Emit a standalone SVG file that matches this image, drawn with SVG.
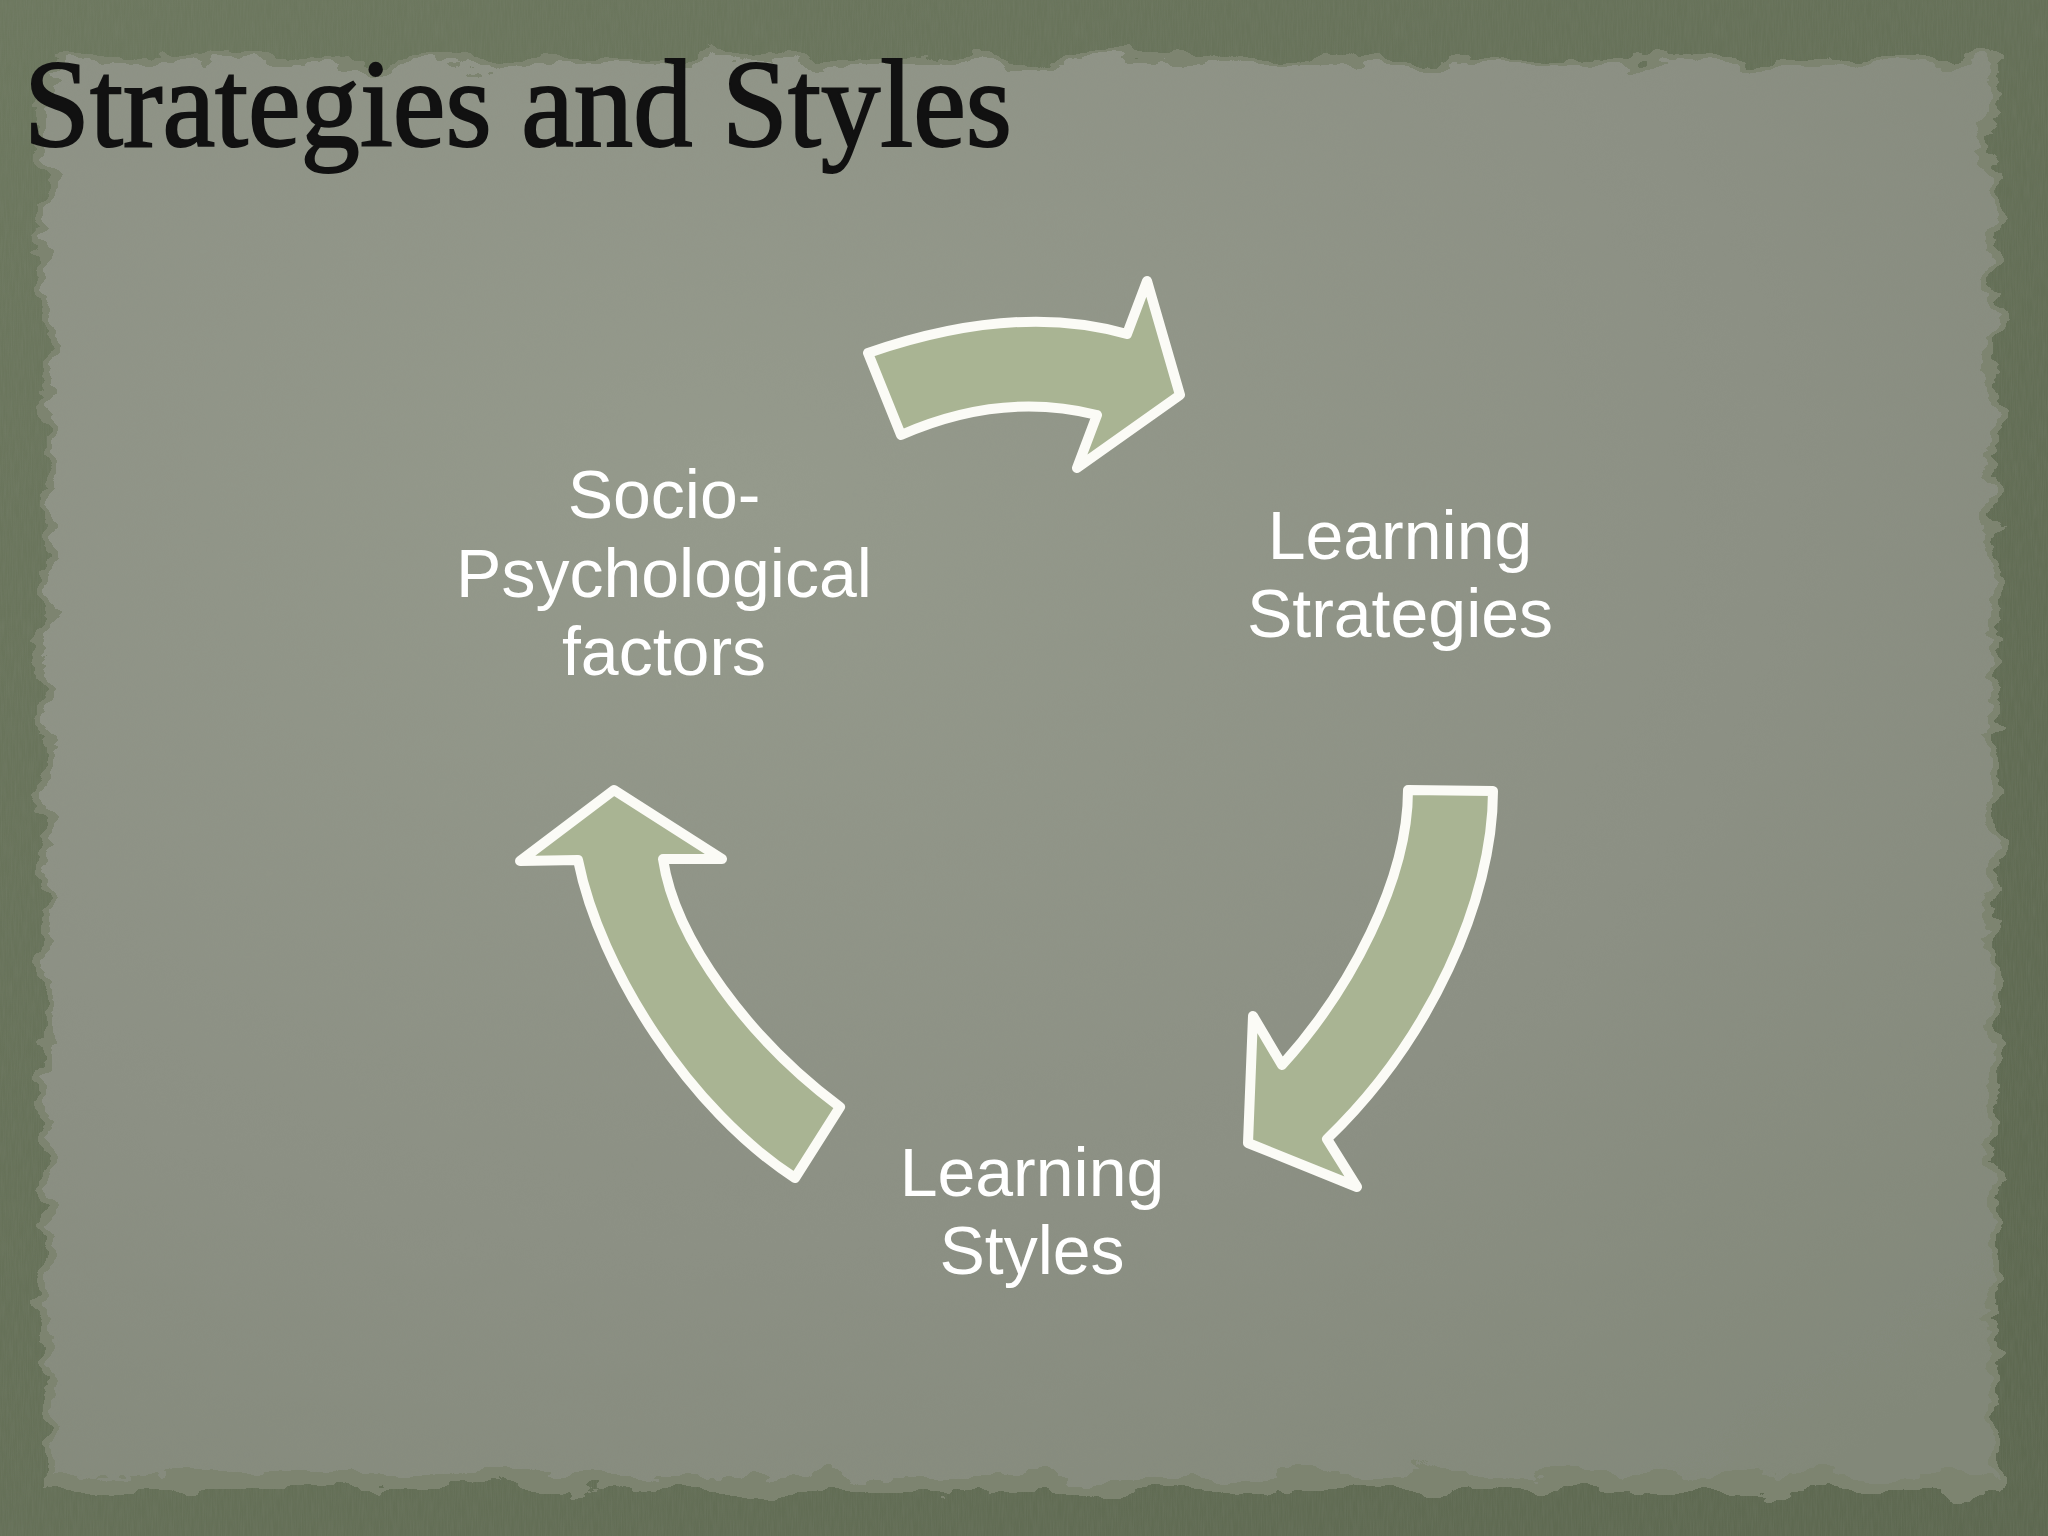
<svg xmlns="http://www.w3.org/2000/svg" width="2048" height="1536" viewBox="0 0 2048 1536">
  <style>
    .arrow { fill: #a9b493; stroke: #fbfbf6; stroke-width: 10; stroke-linejoin: round; }
    .label { font-family: "Liberation Sans", Arial, sans-serif; font-size: 68px; fill: #ffffff; text-anchor: middle; }
    .title { font-family: "Liberation Serif", "Times New Roman", serif; font-size: 124px; fill: #111111; stroke: #111111; stroke-width: 2; }
  </style>
  <defs>
    <linearGradient id="frameGrad" x1="0" y1="0" x2="1" y2="1">
      <stop offset="0" stop-color="#6d785f"/>
      <stop offset="1" stop-color="#5d6850"/>
    </linearGradient>
    <radialGradient id="paperGrad" cx="0.35" cy="0.3" r="0.9">
      <stop offset="0" stop-color="#959a8c"/>
      <stop offset="0.6" stop-color="#8c9084"/>
      <stop offset="1" stop-color="#828879"/>
    </radialGradient>
    <filter id="torn" x="-5%" y="-5%" width="110%" height="110%">
      <feTurbulence type="fractalNoise" baseFrequency="0.015 0.03" numOctaves="4" seed="7" result="n"/>
      <feDisplacementMap in="SourceGraphic" in2="n" scale="44" xChannelSelector="R" yChannelSelector="G"/>
    </filter>
    <filter id="grain" x="0" y="0" width="100%" height="100%">
      <feTurbulence type="fractalNoise" baseFrequency="0.8 0.05" numOctaves="2" seed="3"/>
      <feColorMatrix type="matrix" values="0 0 0 0 0.3  0 0 0 0 0.32  0 0 0 0 0.27  0 0 0 0.35 -0.1"/>
    </filter>
  </defs>

  <!-- background frame and paper -->
  <g id="background">
    <rect x="0" y="0" width="2048" height="1536" fill="url(#frameGrad)"/>
    <rect x="0" y="0" width="2048" height="1536" filter="url(#grain)" opacity="0.6"/>
    <rect x="42" y="58" width="1956" height="1432" fill="#7d846f" filter="url(#torn)"/>
    <rect x="50" y="64" width="1940" height="1410" fill="url(#paperGrad)" filter="url(#torn)"/>
  </g>

  <g id="title">
    <text class="title" x="24" y="146" textLength="988" lengthAdjust="spacingAndGlyphs">Strategies and Styles</text>
  </g>

  <g id="node-socio">
    <text class="label" x="664" y="518">Socio-</text>
    <text class="label" x="664" y="597">Psychological</text>
    <text class="label" x="664" y="675">factors</text>
  </g>

  <g id="node-strategies">
    <text class="label" x="1400" y="559">Learning</text>
    <text class="label" x="1400" y="637">Strategies</text>
  </g>

  <g id="node-styles">
    <text class="label" x="1032" y="1196">Learning</text>
    <text class="label" x="1032" y="1274">Styles</text>
  </g>

  <g id="connectors">
    <path class="arrow" d="M 868,353 Q 1016,302 1127,334 L 1147,281 L 1180,395 L 1077,468 L 1097,415 Q 1001,391 901,435 Z"/>
    <path class="arrow" d="M 1408,790 L 1493,791 C 1493,900 1430,1040 1327,1139 L 1357,1187 L 1248,1143 L 1253,1016 L 1282,1065 C 1350,990 1408,880 1408,790 Z"/>
    <path class="arrow" d="M 840,1107 L 795,1178 C 690,1110 600,970 578,860 L 520,861 L 614,790 L 722,859 L 663,859 C 675,940 750,1040 840,1107 Z"/>
  </g>
</svg>
